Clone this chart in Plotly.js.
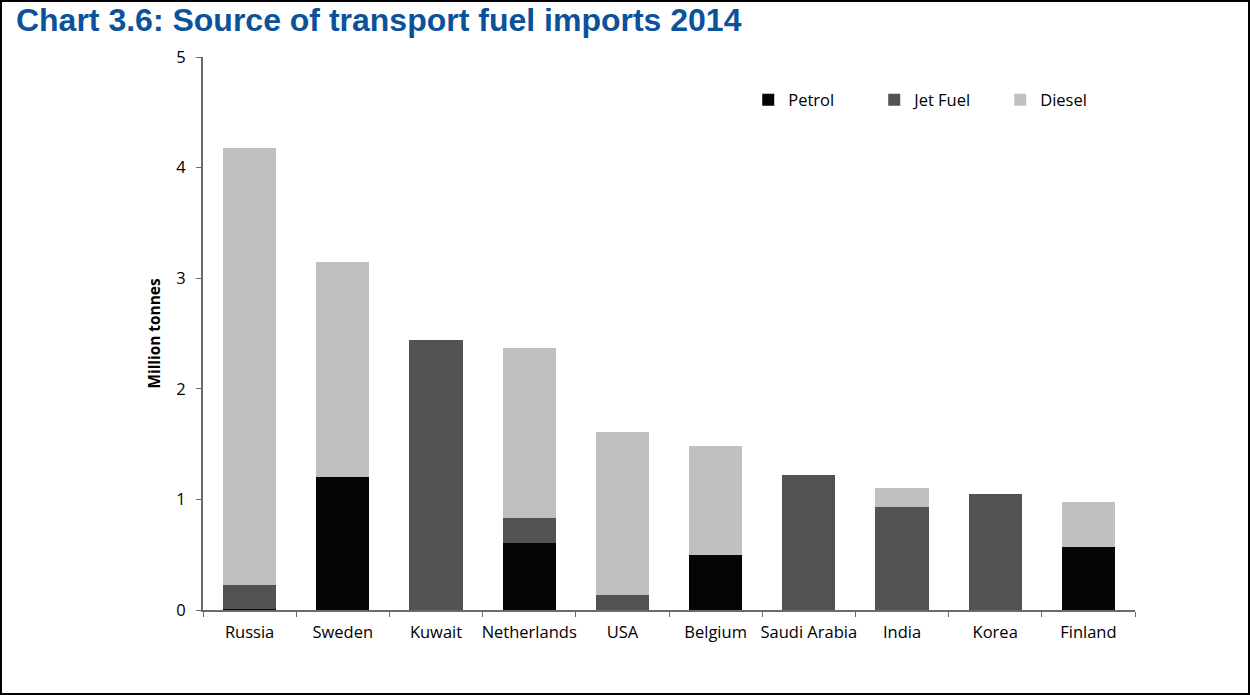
<!DOCTYPE html>
<html>
<head>
<meta charset="utf-8">
<script src="https://cdn.plot.ly/plotly-3.0.1.min.js"></script>
<style>
  html, body { margin: 0; padding: 0; background: #fff; }
  #frame { width: 1250px; height: 695px; box-sizing: border-box; border: 2px solid #000; background: #fff; }
  #chart { width: 1246px; height: 691px; }
</style>
</head>
<body>
<div id="frame"><div id="chart"></div></div>
<script>
const countries = ["Russia", "Sweden", "Kuwait", "Netherlands", "USA", "Belgium", "Saudi Arabia", "India", "Korea", "Finland"];
const petrol  = [0.01, 1.20, 0.00, 0.61, 0.00, 0.50, 0.00, 0.00, 0.00, 0.57];
const jetFuel = [0.22, 0.00, 2.44, 0.22, 0.14, 0.00, 1.22, 0.93, 1.05, 0.00];
const diesel  = [3.95, 1.95, 0.00, 1.54, 1.47, 0.98, 0.00, 0.17, 0.00, 0.41];
const seriesNames = ["Petrol", "Jet Fuel", "Diesel"];
const seriesColors = ["#050505", "#525252", "#c0c0c0"];
const yTicks = [0, 1, 2, 3, 4, 5];

const allSeries = [petrol, jetFuel, diesel];
const traces = allSeries.map((vals, i) => ({
  type: "bar",
  name: seriesNames[i],
  x: countries,
  y: vals,
  marker: { color: seriesColors[i], line: { width: 0 } },
  hoverinfo: "x+y+name"
}));

const axisColor = "#6b6b6b";
const layout = {
  width: 1246,
  height: 691,
  barmode: "stack",
  bargap: 0.43,
  paper_bgcolor: "#ffffff",
  plot_bgcolor: "#ffffff",
  font: { family: "'Open Sans', Lato, sans-serif", size: 16.5, color: "#000" },
  margin: { l: 201, r: 113, t: 55, b: 83, pad: 0 },
  title: {
    text: "Chart 3.6: Source of transport fuel imports 2014",
    font: { family: "'Liberation Sans', Arial, sans-serif", size: 32, color: "#0b529a", weight: "bold" },
    xref: "container", yref: "container",
    x: 0.0112, xanchor: "left",
    y: 0.9906, yanchor: "top",
    pad: { t: 0, l: 0 }
  },
  xaxis: {
    type: "category",
    showline: true, linecolor: axisColor, linewidth: 2,
    ticks: "outside", tickson: "boundaries", ticklen: 5, tickcolor: axisColor, tickwidth: 1,
    showgrid: false, zeroline: false,
    tickangle: 0,
    ticklabelstandoff: 6,
    tickfont: { size: 16.5 },
    automargin: false
  },
  yaxis: {
    range: [0, 5],
    tickvals: yTicks,
    ticktext: yTicks.map(String),
    showline: true, linecolor: axisColor, linewidth: 2,
    ticks: "outside", ticklen: 5, tickcolor: axisColor, tickwidth: 1,
    showgrid: false, zeroline: false,
    ticklabelstandoff: 7,
    tickfont: { size: 16.5 },
    title: { text: "<b>Million tonnes</b>", font: { size: 15.4 }, standoff: 12 },
    automargin: false
  },
  legend: {
    orientation: "h",
    x: 0.585, xanchor: "left",
    y: 0.922, yanchor: "middle",
    bgcolor: "rgba(0,0,0,0)",
    itemwidth: 30,
    entrywidth: 81, entrywidthmode: "pixels",
    traceorder: "normal",
    font: { size: 16.5 }
  },
  showlegend: true
};

Plotly.newPlot("chart", traces, layout, { displayModeBar: false });
</script>
</body>
</html>
